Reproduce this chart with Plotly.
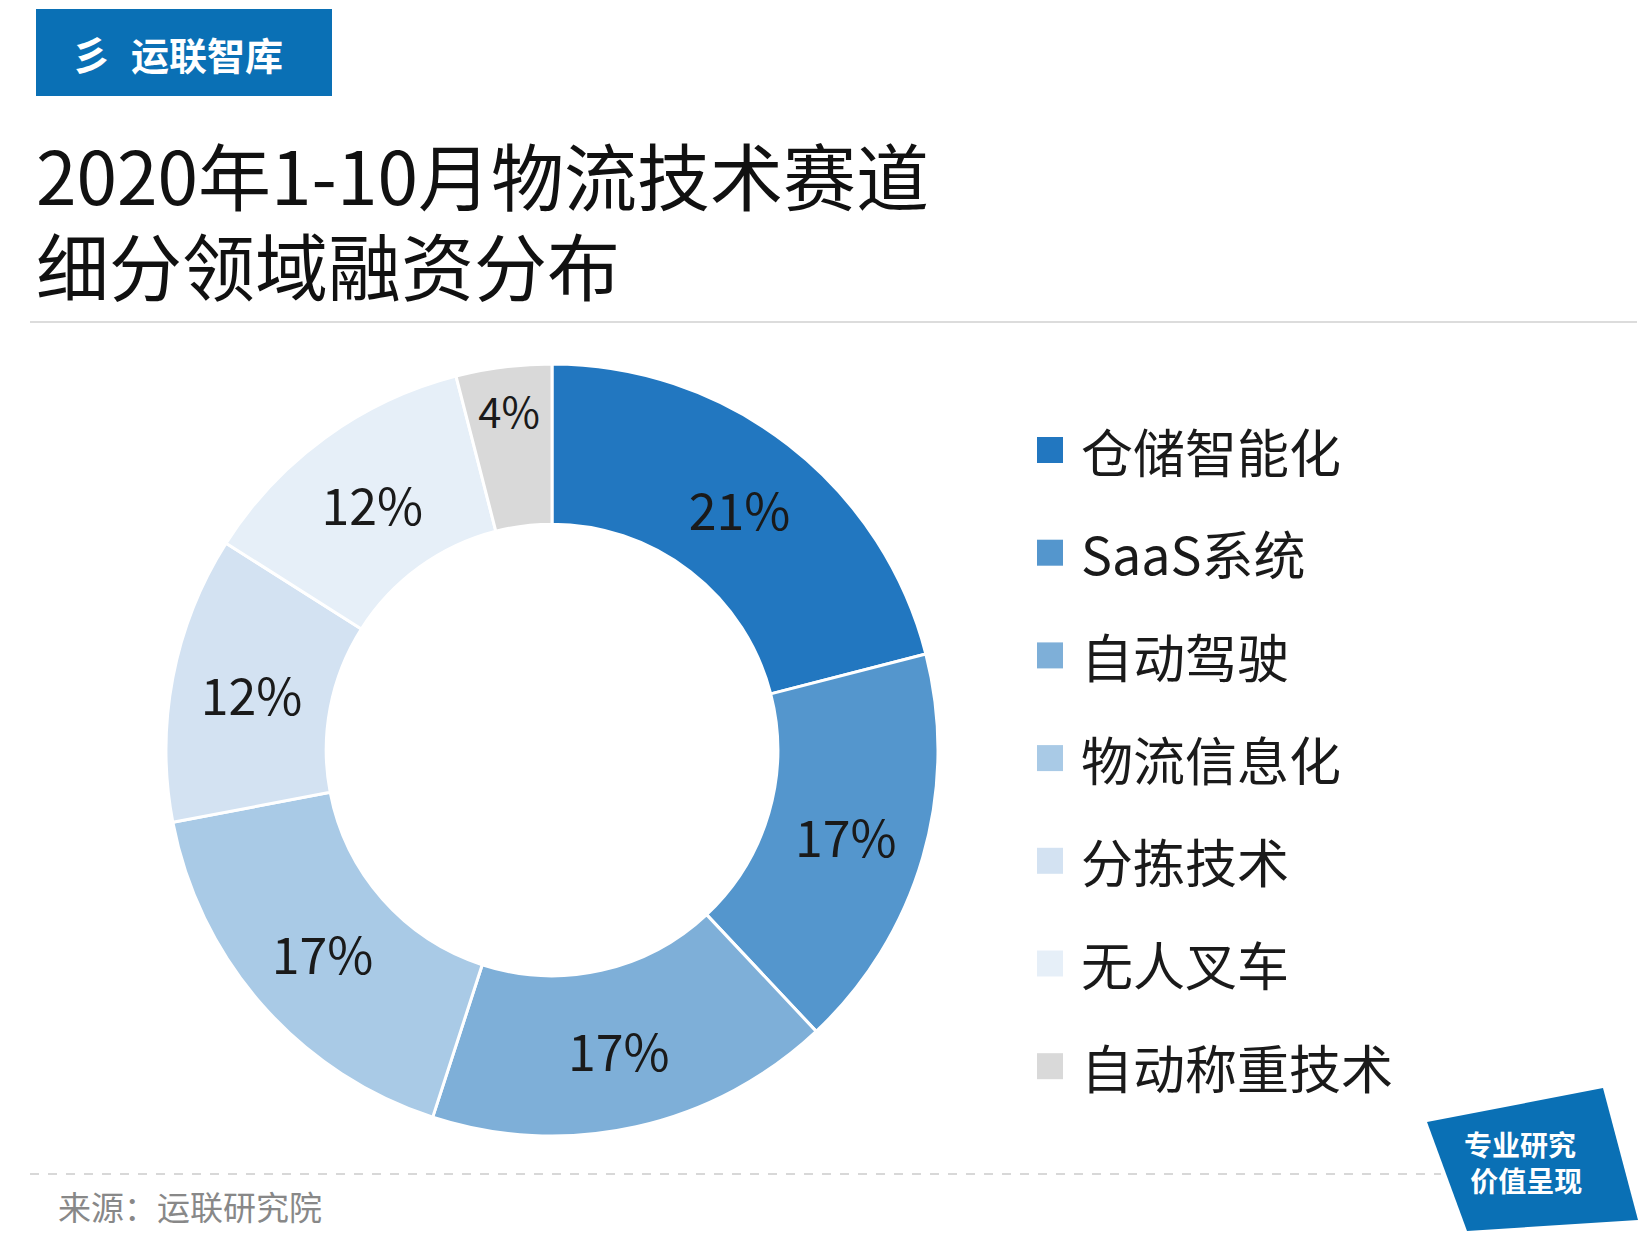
import plotly.graph_objects as go

W, H = 1650, 1244
DX, DY = -7, -7

# data
labels = ["仓储智能化", "SaaS系统", "自动驾驶", "物流信息化", "分拣技术", "无人叉车", "自动称重技术"]
shares = [21, 17, 17, 17, 12, 12, 4]
colors = ["#2277C0", "#5496CD", "#7EAFD8", "#A9CAE6", "#D3E2F2", "#E6EFF8", "#D9D9D9"]
title_lines = ["2020年1-10月物流技术赛道", "细分领域融资分布"]

FONT = "Noto Sans CJK SC"


def px(x, y):
    return (x + DX) / W, 1 - (y + DY) / H


fig = go.Figure()

d0 = px(165, 1135)
d1 = px(937, 363)
fig.add_trace(go.Pie(
    labels=labels,
    values=shares,
    text=[f"{v}%" for v in shares],
    textinfo="text",
    textposition="inside",
    insidetextorientation="horizontal",
    textfont=dict(size=50, color="#1a1a1a", family=FONT),
    marker=dict(colors=colors, line=dict(color="white", width=3)),
    hole=0.585,
    sort=False,
    direction="clockwise",
    rotation=0,
    domain=dict(x=[d0[0], d1[0]], y=[d0[1], d1[1]]),
    showlegend=False,
))

shapes = []
annotations = []

# legend drawn by hand for spacing
for i, (lab, col) in enumerate(zip(labels, colors)):
    yc = 449 + i * 102.7
    x0, y0 = px(1036, yc - 13)
    x1, y1 = px(1062, yc + 13)
    shapes.append(dict(type="rect", xref="paper", yref="paper", x0=x0, x1=x1, y0=y1, y1=y0,
                       fillcolor=col, line=dict(width=0)))
    ax, ay = px(1078, yc)
    annotations.append(dict(x=ax, y=ay, xref="paper", yref="paper", text=lab, showarrow=False,
                            xanchor="left", yanchor="middle",
                            font=dict(size=52, color="#1a1a1a", family=FONT)))

# header box
x0, y0 = px(35, 8)
x1, y1 = px(331, 95)
shapes.append(dict(type="rect", xref="paper", yref="paper", x0=x0, x1=x1, y0=y1, y1=y0,
                   fillcolor="#0A70B5", line=dict(width=0)))
annotations.append(dict(x=px(128, 52)[0], y=px(128, 52)[1], xref="paper", yref="paper",
                        text="<b>运联智库</b>", showarrow=False, xanchor="left", yanchor="middle",
                        font=dict(size=38, color="white", family=FONT)))
annotations.append(dict(x=px(90, 52)[0], y=px(90, 52)[1], xref="paper", yref="paper",
                        text="<b>彡</b>", showarrow=False, xanchor="center", yanchor="middle",
                        font=dict(size=40, color="white", family=FONT)))

# title, one annotation per line to control spacing
for line, yy in zip(title_lines, [172, 262]):
    annotations.append(dict(x=px(33, yy)[0], y=px(33, yy)[1], xref="paper", yref="paper",
                            text=line, showarrow=False,
                            xanchor="left", yanchor="middle", align="left",
                            font=dict(size=73, color="#111111", family=FONT)))

# separator lines
a, b = px(29, 321), px(1636, 321)
shapes.append(dict(type="line", xref="paper", yref="paper", x0=a[0], x1=b[0], y0=a[1], y1=b[1],
                   line=dict(color="#d0d0d0", width=1.5)))
a, b = px(29, 1173), px(1440, 1173)
shapes.append(dict(type="line", xref="paper", yref="paper", x0=a[0], x1=b[0], y0=a[1], y1=b[1],
                   line=dict(color="#cccccc", width=1.5, dash="dash")))

# source
annotations.append(dict(x=px(55, 1205)[0], y=px(55, 1205)[1], xref="paper", yref="paper",
                        text="来源：运联研究院", showarrow=False, xanchor="left", yanchor="middle",
                        font=dict(size=33, color="#888888", family=FONT)))

# badge
pts = [(1426, 1121), (1602, 1087), (1637, 1219), (1466, 1230)]
path = "M " + " L ".join(f"{px(x, y)[0]},{px(x, y)[1]}" for x, y in pts) + " Z"
shapes.append(dict(type="path", xref="paper", yref="paper", path=path,
                   fillcolor="#0A70B5", line=dict(width=0)))
annotations.append(dict(x=px(1522, 1161)[0], y=px(1522, 1161)[1], xref="paper", yref="paper",
                        text="<b>专业研究</b><br><b> 价值呈现</b>", showarrow=False, align="left",
                        xanchor="center", yanchor="middle",
                        font=dict(size=28, color="white", family=FONT)))

fig.update_layout(
    width=W, height=H,
    margin=dict(l=0, r=0, t=0, b=0),
    paper_bgcolor="white",
    plot_bgcolor="white",
    shapes=shapes,
    annotations=annotations,
)

fig.write_html("out.html")
